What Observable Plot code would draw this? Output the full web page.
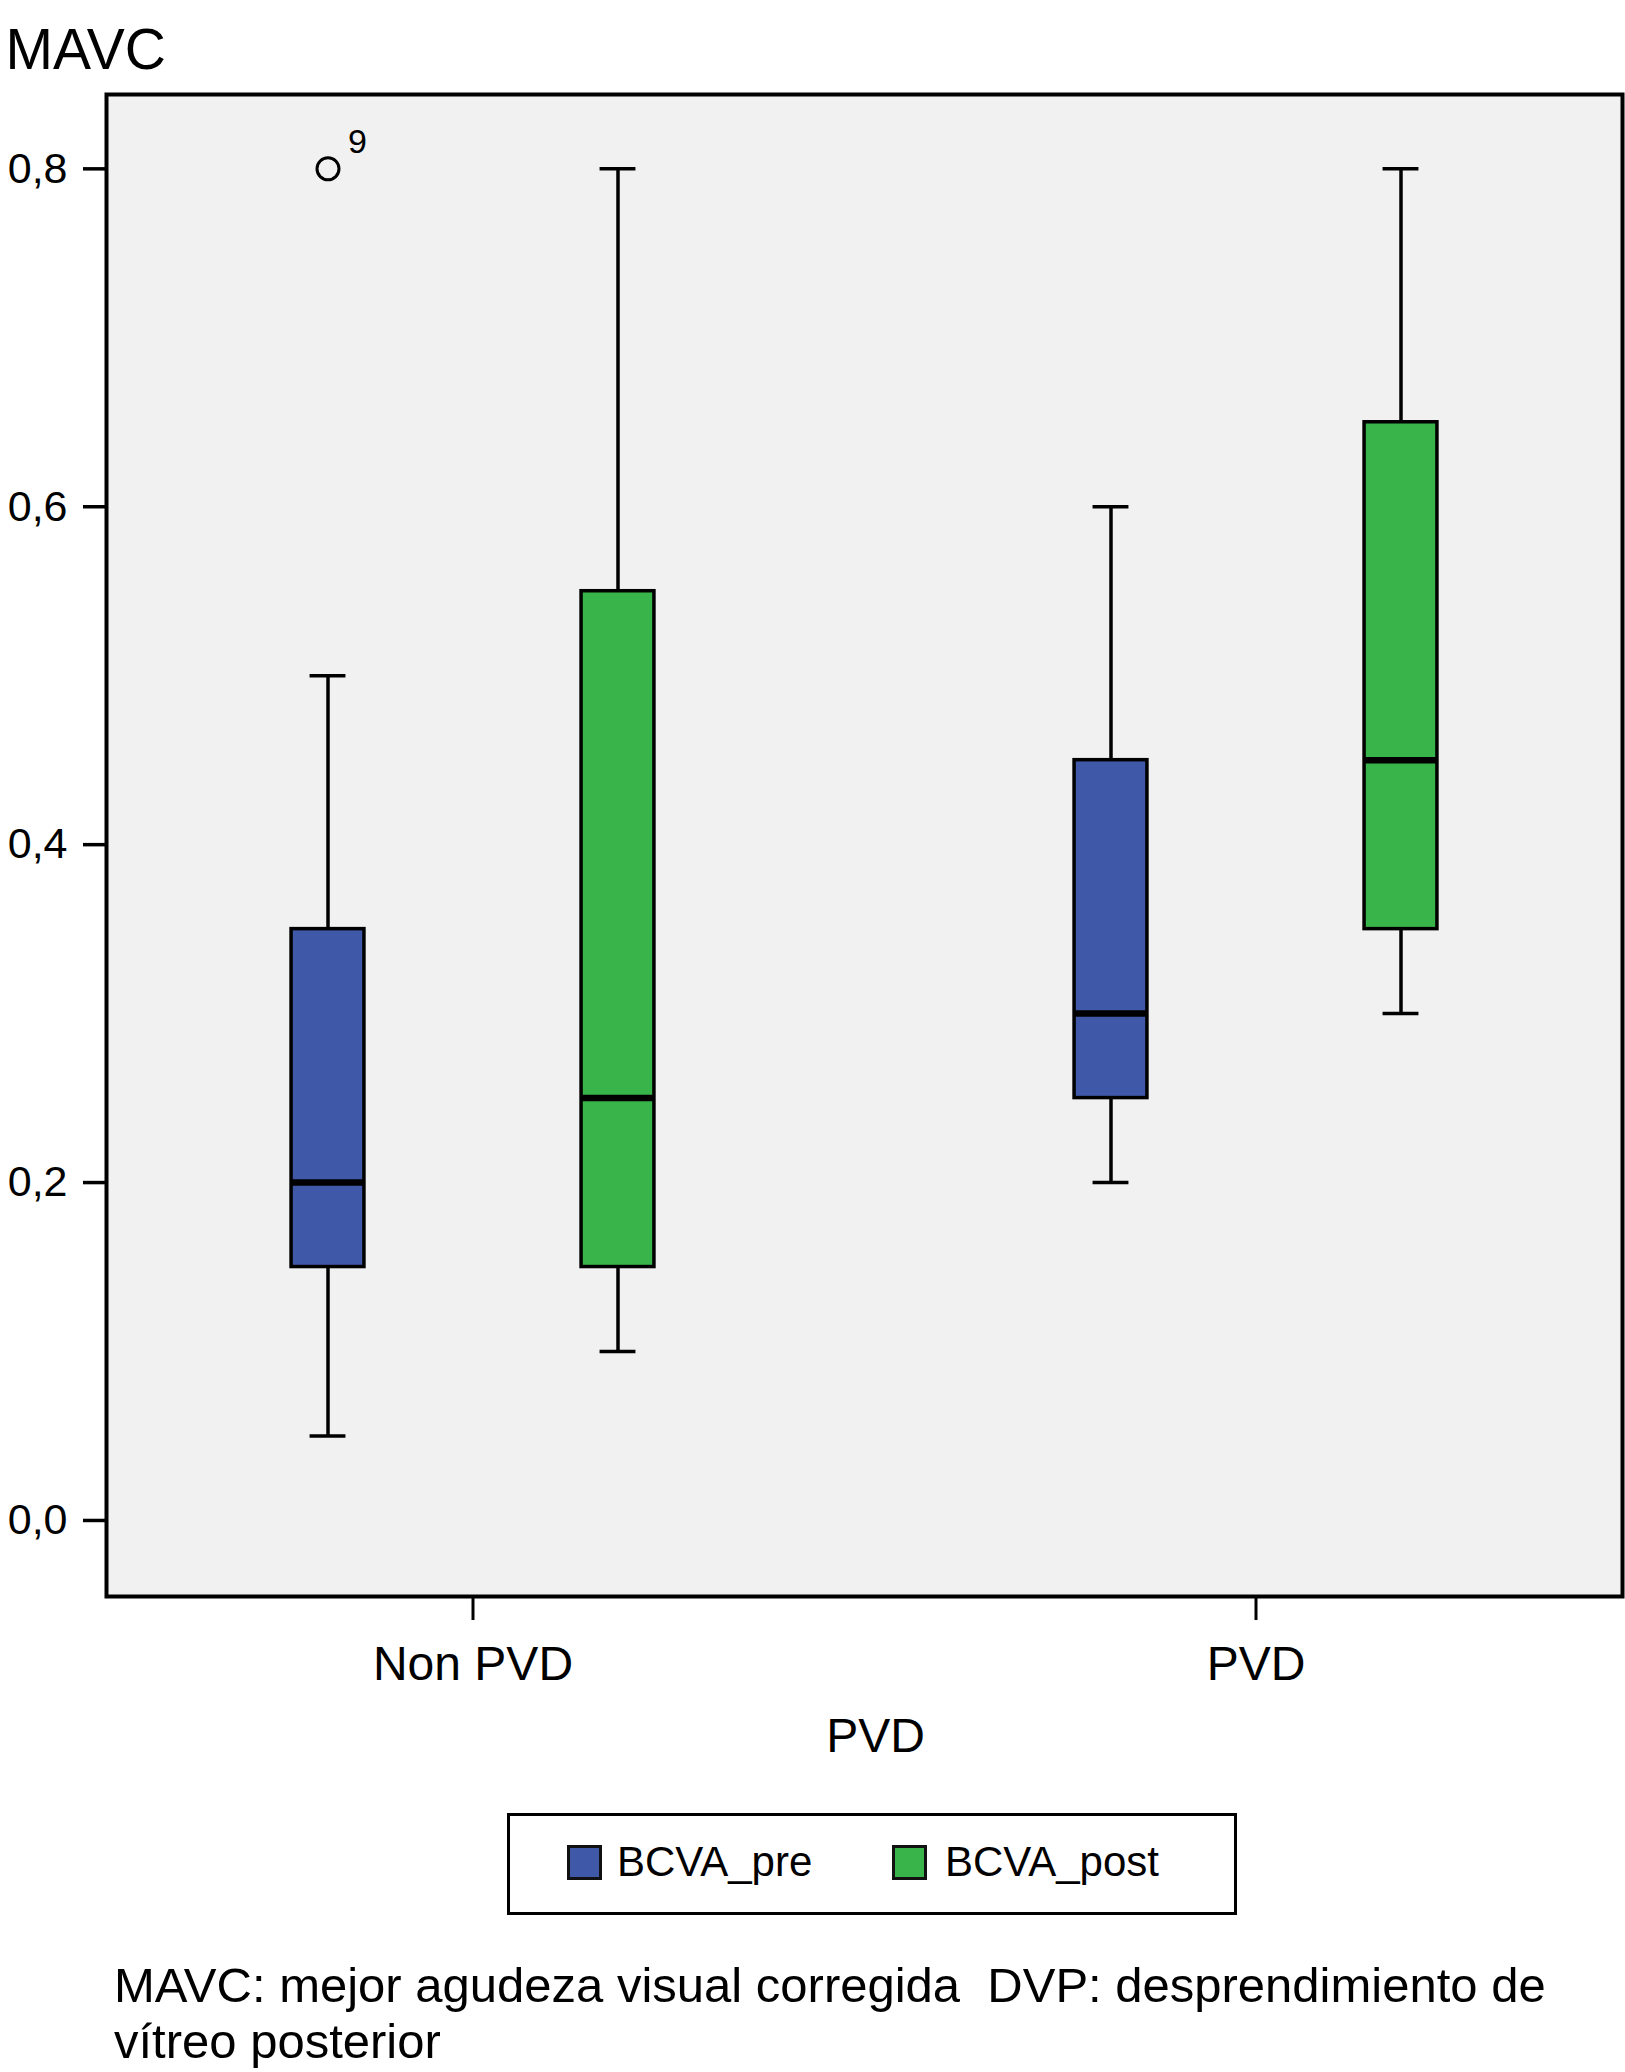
<!DOCTYPE html>
<html>
<head>
<meta charset="utf-8">
<script src="https://cdn.jsdelivr.net/npm/d3@7"></script>
<script src="https://cdn.jsdelivr.net/npm/@observablehq/plot@0.6"></script>
<style>
  html, body { margin: 0; padding: 0; background: #fff; }
  body { width: 1625px; height: 2072px; position: relative; font-family: "Liberation Sans", Arial, sans-serif; }
  #chart { position: absolute; left: 0; top: 0; }
  #legend { position: absolute; left: 507px; top: 1813px; width: 730px; height: 102px; box-sizing: border-box; border: 3px solid #000; }
  .sw { position: absolute; width: 35px; height: 35px; box-sizing: border-box; border: 3px solid #111; top: 29px; }
  .lt { position: absolute; font-size: 42px; line-height: 42px; top: 25px; color: #000; }
  #caption { position: absolute; left: 114px; top: 1957px; width: 1500px; font-size: 49px; line-height: 56px; color: #000; white-space: pre-wrap; }
</style>
</head>
<body>
<div id="chart"></div>
<div id="legend"></div>
<div id="caption"></div>
<script>
// ---- data ----
const groups = ["Non PVD", "PVD"];
const series = ["BCVA_pre", "BCVA_post"];
const seriesColors = ["#4058a8", "#39b44a"];
const rowGroup = ["Non PVD", "Non PVD", "PVD", "PVD"];
const rowSeries = ["BCVA_pre", "BCVA_post", "BCVA_pre", "BCVA_post"];
const whiskerLow = [0.05, 0.10, 0.20, 0.30];
const q1 = [0.15, 0.15, 0.25, 0.35];
const median = [0.20, 0.25, 0.30, 0.45];
const q3 = [0.35, 0.55, 0.45, 0.65];
const whiskerHigh = [0.50, 0.80, 0.60, 0.80];
const outlierGroup = ["Non PVD"];
const outlierSeries = ["BCVA_pre"];
const outlierValue = [0.8];
const outlierLabel = ["9"];
const yTicks = [0, 0.2, 0.4, 0.6, 0.8];
const yLabel = "MAVC";
const xLabel = "PVD";
const captionText = "MAVC: mejor agudeza visual corregida  DVP: desprendimiento de vítreo posterior";

// ---- table ----
const rows = rowGroup.map((g, i) => ({
  group: g, series: rowSeries[i], lo: whiskerLow[i], q1: q1[i], med: median[i], q3: q3[i], hi: whiskerHigh[i]
}));
const outliers = outlierGroup.map((g, i) => ({group: g, series: outlierSeries[i], value: outlierValue[i], label: outlierLabel[i]}));

// ---- layout ----
const W = 1625, H = 1775, mL = 106, mR = 3, mT = 94, mB = H - 1596;
const padInner = 0.066;
const plotW = W - mL - mR;
const step = plotW / (groups.length - padInner);
const bw = step * (1 - padInner);
const OFFSET = 145, BOX_W = 74, CAP_W = 37;
const boxInset = (bw - BOX_W) / 2, capInset = (bw - CAP_W) / 2;
const dxOf = s => (s === series[0] ? -OFFSET : OFFSET);
const fmt = d => d.toFixed(1).replace(".", ",");

const marks = [Plot.frame({fill: "#f1f1f1", stroke: "none"})];
series.forEach((s, si) => {
  const data = rows.filter(r => r.series === s);
  const dx = dxOf(s);
  marks.push(
    Plot.ruleX(data, {x: "group", y1: "lo", y2: "q1", dx, stroke: "#000", strokeWidth: 3.5}),
    Plot.ruleX(data, {x: "group", y1: "q3", y2: "hi", dx, stroke: "#000", strokeWidth: 3.5}),
    Plot.tickY(data, {x: "group", y: "lo", dx, insetLeft: capInset, insetRight: capInset, stroke: "#000", strokeWidth: 3.5}),
    Plot.tickY(data, {x: "group", y: "hi", dx, insetLeft: capInset, insetRight: capInset, stroke: "#000", strokeWidth: 3.5}),
    Plot.barY(data, {x: "group", y1: "q1", y2: "q3", dx, insetLeft: boxInset, insetRight: boxInset, fill: seriesColors[si], stroke: "#000", strokeWidth: 3.5}),
    Plot.tickY(data, {x: "group", y: "med", dx, insetLeft: boxInset, insetRight: boxInset, stroke: "#000", strokeWidth: 6.5})
  );
  const od = outliers.filter(o => o.series === s);
  marks.push(
    Plot.dot(od, {x: "group", y: "value", dx, r: 11, stroke: "#000", strokeWidth: 3, fill: "none"}),
    Plot.text(od, {x: "group", y: "value", text: "label", dx: dx + 20, dy: -27, textAnchor: "start", fontSize: 34, fill: "#000"})
  );
});
marks.push(
  Plot.frame({stroke: "#000", strokeWidth: 4}),
  Plot.axisY({ticks: yTicks, tickFormat: fmt, tickSize: 23, tickPadding: 16, fontSize: 43, strokeWidth: 3.5, label: null}),
  Plot.axisX({tickSize: 24, tickPadding: 25, fontSize: 48, strokeWidth: 3, label: null}),
  Plot.text([yLabel], {frameAnchor: "top-left", dx: -101, dy: -66, textAnchor: "start", fontSize: 57, fill: "#000"}),
  Plot.text([xLabel], {frameAnchor: "bottom", dx: 11, dy: 155, fontSize: 48, fill: "#000"})
);

const chart = Plot.plot({
  width: W, height: H,
  marginLeft: mL, marginRight: mR, marginTop: mT, marginBottom: mB,
  style: {fontFamily: "'Liberation Sans', Arial, sans-serif", color: "#000", background: "#fff", overflow: "visible"},
  x: {type: "band", domain: groups, paddingInner: padInner, paddingOuter: 0, align: 0.5},
  y: {domain: [-0.045, 0.844]},
  marks
});
document.getElementById("chart").appendChild(chart);

// ---- legend ----
const legend = document.getElementById("legend");
const swX = [567 - 507, 892 - 507];
const txX = [617 - 507, 945 - 507];
series.forEach((s, i) => {
  const sw = document.createElement("div");
  sw.className = "sw"; sw.style.left = (swX[i] - 3) + "px"; sw.style.background = seriesColors[i];
  legend.appendChild(sw);
  const t = document.createElement("div");
  t.className = "lt"; t.style.left = (txX[i] - 3) + "px"; t.textContent = s;
  legend.appendChild(t);
});
document.getElementById("caption").textContent = captionText;
</script>
</body>
</html>
